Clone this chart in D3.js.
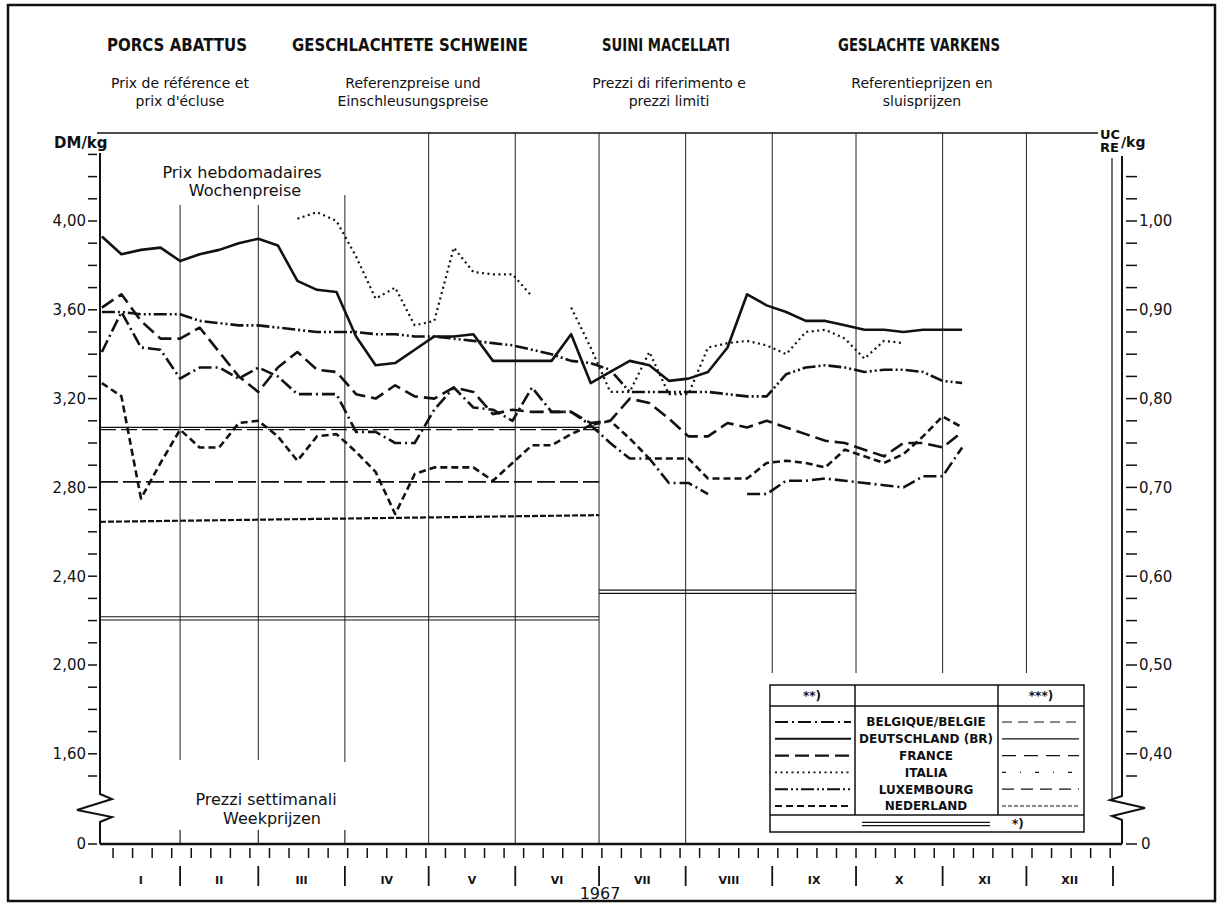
<!DOCTYPE html>
<html lang="fr">
<head>
<meta charset="UTF-8">
<title>Porcs abattus 1967</title>
<script src="https://cdnjs.cloudflare.com/ajax/libs/d3/7.8.5/d3.min.js"></script>
<style>
  body { margin: 0; background: #fff; }
  svg text { font-family: "DejaVu Sans", sans-serif; fill: #111; }
  .title { font-size: 18px; font-weight: bold; }
  .sub { font-size: 14px; }
  .axlab { font-size: 15px; }
  .note { font-size: 16px; }
  .month { font-size: 11px; font-weight: bold; }
  .leg { font-size: 12px; font-weight: bold; }
</style>
</head>
<body>
<svg width="1223" height="905"></svg>
<script>
// weekly prices, DM/kg, one value per week starting Wed 4 Jan 1967 (null = no quotation)
const belgique = [3.41,3.59,3.43,3.42,3.29,3.34,3.34,3.29,3.34,3.30,3.22,3.22,3.22,3.05,3.05,3.00,3.00,3.15,3.25,3.16,3.15,3.10,3.25,3.14,3.14,3.08,3.00,2.93,2.93,2.82,2.82,2.77,null,2.77,2.77,2.83,2.83,2.84,2.83,2.82,2.81,2.80,2.85,2.85,2.98];
const deutschland = [3.93,3.85,3.87,3.88,3.82,3.85,3.87,3.90,3.92,3.89,3.73,3.69,3.68,3.48,3.35,3.36,3.42,3.48,3.48,3.49,3.37,3.37,3.37,3.37,3.49,3.27,3.32,3.37,3.35,3.28,3.29,3.32,3.43,3.67,3.62,3.59,3.55,3.55,3.53,3.51,3.51,3.50,3.51,3.51,3.51];
const france = [3.61,3.67,3.55,3.47,3.47,3.52,3.41,3.30,3.23,3.34,3.41,3.33,3.32,3.22,3.20,3.26,3.21,3.20,3.25,3.23,3.13,3.15,3.14,3.14,3.14,3.09,3.10,3.20,3.18,3.11,3.03,3.03,3.09,3.07,3.10,3.07,3.04,3.01,3.00,2.97,2.94,3.00,3.00,2.98,3.05];
const italia = [null,null,null,null,null,null,null,null,null,null,4.01,4.04,4.00,3.84,3.65,3.70,3.53,3.55,3.88,3.77,3.76,3.76,3.66,null,3.61,3.43,3.23,3.23,3.41,3.22,3.22,3.43,3.45,3.46,3.44,3.40,3.50,3.51,3.47,3.38,3.46,3.45,null,null,null];
const luxembourg = [3.59,3.59,3.58,3.58,3.58,3.55,3.54,3.53,3.53,3.52,3.51,3.50,3.50,3.50,3.49,3.49,3.48,3.48,3.47,3.46,3.45,3.44,3.42,3.40,3.37,3.36,3.33,3.23,3.23,3.23,3.23,3.23,3.22,3.21,3.21,3.31,3.34,3.35,3.34,3.32,3.33,3.33,3.32,3.28,3.27];
const nederland = [3.27,3.21,2.75,2.91,3.06,2.98,2.98,3.09,3.10,3.03,2.92,3.03,3.04,2.96,2.87,2.68,2.86,2.89,2.89,2.89,2.83,2.91,2.99,2.99,3.04,3.08,3.10,3.02,2.93,2.93,2.93,2.84,2.84,2.84,2.91,2.92,2.91,2.89,2.97,2.94,2.91,2.95,3.03,3.12,3.07];

// reference prices (***) and sluice-gate prices (*)
const refDates = ["1967-01-01", "1967-07-01"];
const refDeutschland = [3.07, 3.07];
const refFrance = [3.06, 3.06];
const refBelLux = [2.825, 2.825];
const refNederland = [2.645, 2.675];
const sluiceDates = [["1967-01-01", "1967-07-01"], ["1967-07-01", "1967-10-01"]];
const sluiceValues = [2.21, 2.33];

const monthLabels = ["I","II","III","IV","V","VI","VII","VIII","IX","X","XI","XII"];
const leftTicks = [1.6, 2.0, 2.4, 2.8, 3.2, 3.6, 4.0];
const rightTicks = [0.40, 0.50, 0.60, 0.70, 0.80, 0.90, 1.00];
const countries = ["BELGIQUE/BELGIE", "DEUTSCHLAND (BR)", "FRANCE", "ITALIA", "LUXEMBOURG", "NEDERLAND"];

const parse = d3.timeParse("%Y-%m-%d");
const weeks = belgique.map((_, k) => d3.timeDay.offset(new Date(1967, 0, 4), 7 * k));

const svg = d3.select("svg");
const x = d3.scaleTime().domain([new Date(1967, 0, 1), new Date(1968, 0, 1)]).range([93.5, 1113]);
const y = d3.scaleLinear().domain([1.5, 4.3]).range([776, 154.4]);
const yUC = d3.scaleLinear().domain([0.375, 1.075]).range([776, 154.4]);
const y0 = 844, axL = 100, axR = 1122, topY = 133;

// frame
svg.append("rect").attr("x", 8).attr("y", 5).attr("width", 1207).attr("height", 896)
  .attr("fill", "none").attr("stroke", "#111").attr("stroke-width", 2.5);

// headers: [centre, title, title width, subtitle line 1, line 2]
const heads = [
  [177, "PORCS ABATTUS", 140, "Prix de référence et", "prix d'écluse"],
  [410, "GESCHLACHTETE SCHWEINE", 236, "Referenzpreise und", "Einschleusungspreise"],
  [666, "SUINI MACELLATI", 128, "Prezzi di riferimento e", "prezzi limiti"],
  [919, "GESLACHTE VARKENS", 162, "Referentieprijzen en", "sluisprijzen"]
];
heads.forEach(h => {
  svg.append("text").attr("class", "title").attr("x", h[0]).attr("y", 51).attr("text-anchor", "middle")
    .attr("textLength", h[2]).attr("lengthAdjust", "spacingAndGlyphs").text(h[1]);
  svg.append("text").attr("class", "sub").attr("x", h[0] + 3).attr("y", 88).attr("text-anchor", "middle").text(h[3]);
  svg.append("text").attr("class", "sub").attr("x", h[0] + 3).attr("y", 106).attr("text-anchor", "middle").text(h[4]);
});

// top line and unit labels
svg.append("line").attr("x1", 97).attr("x2", 1098).attr("y1", topY).attr("y2", topY)
  .attr("stroke", "#111").attr("stroke-width", 1.5);
svg.append("text").attr("class", "axlab").attr("x", 54).attr("y", 148).style("font-weight", "bold").text("DM/kg");
svg.append("text").attr("x", 1100).attr("y", 139).style("font-size", "13px").style("font-weight", "bold").text("UC");
svg.append("text").attr("x", 1100).attr("y", 152).style("font-size", "13px").style("font-weight", "bold").text("RE");
svg.append("text").attr("x", 1121).attr("y", 147).style("font-size", "14px").style("font-weight", "bold").text("/kg");

// month grid lines (boundaries Feb..Dec)
const bounds = d3.timeMonth.range(new Date(1967, 1, 1), new Date(1968, 0, 1));
const gridTop = [205, 205, 195, topY, topY, topY, topY, topY, topY, topY, topY];
const gridBot = [760, 760, 762, y0, y0, y0, y0, 673, 673, 673, 673];
svg.append("g").selectAll("line").data(bounds).join("line")
  .attr("x1", d => x(d)).attr("x2", d => x(d))
  .attr("y1", (d, i) => gridTop[i]).attr("y2", (d, i) => gridBot[i])
  .attr("stroke", "#222").attr("stroke-width", 1);
svg.append("g").selectAll("line").data(bounds.slice(0, 3)).join("line")
  .attr("x1", d => x(d)).attr("x2", d => x(d)).attr("y1", 830).attr("y2", y0)
  .attr("stroke", "#222").attr("stroke-width", 1.2);

// left axis with break
svg.append("path").attr("fill", "none").attr("stroke", "#111").attr("stroke-width", 2)
  .attr("d", `M${axL},153 V794 L112,799 L77,810 L112,817 L${axL},822 V${y0}`);
svg.append("g").selectAll("line").data(d3.range(15, 44).map(v => v / 10)).join("line")
  .attr("x1", 88).attr("x2", 97).attr("y1", d => y(d)).attr("y2", d => y(d))
  .attr("stroke", "#111").attr("stroke-width", 1.5);
svg.append("g").selectAll("text").data(leftTicks).join("text").attr("class", "axlab")
  .attr("x", 86).attr("y", d => y(d)).attr("dy", "0.36em").attr("text-anchor", "end")
  .text(d => d3.format(".2f")(d).replace(".", ","));
svg.append("line").attr("x1", 88).attr("x2", 97).attr("y1", y0).attr("y2", y0).attr("stroke", "#111").attr("stroke-width", 1.5);
svg.append("text").attr("class", "axlab").attr("x", 86).attr("y", y0).attr("dy", "0.36em").attr("text-anchor", "end").text("0");

// right axis (double line) with break
svg.append("line").attr("x1", 1112).attr("x2", 1112).attr("y1", 158).attr("y2", 800)
  .attr("stroke", "#111").attr("stroke-width", 1.2);
svg.append("path").attr("fill", "none").attr("stroke", "#111").attr("stroke-width", 2)
  .attr("d", `M${axR},156 V796 L1110,800 L1145,808 L1112,816 L${axR},820 V${y0}`);
svg.append("g").selectAll("line").data(d3.range(15, 43).map(v => v / 40)).join("line")
  .attr("x1", 1126).attr("x2", 1137).attr("y1", d => yUC(d)).attr("y2", d => yUC(d))
  .attr("stroke", "#111").attr("stroke-width", 1.5);
svg.append("g").selectAll("text").data(rightTicks).join("text").attr("class", "axlab")
  .attr("x", 1139).attr("y", d => yUC(d)).attr("dy", "0.36em")
  .text(d => d3.format(".2f")(d).replace(".", ","));
svg.append("line").attr("x1", 1126).attr("x2", 1137).attr("y1", y0).attr("y2", y0).attr("stroke", "#111").attr("stroke-width", 1.5);
svg.append("text").attr("class", "axlab").attr("x", 1141).attr("y", y0).attr("dy", "0.36em").text("0");

// bottom axis
svg.append("line").attr("x1", axL).attr("x2", axR).attr("y1", y0).attr("y2", y0)
  .attr("stroke", "#111").attr("stroke-width", 2.5);
const sundays = d3.timeWeek.range(new Date(1967, 0, 2), new Date(1968, 0, 1));
svg.append("g").selectAll("line").data(sundays).join("line")
  .attr("x1", d => x(d)).attr("x2", d => x(d)).attr("y1", 848).attr("y2", 858)
  .attr("stroke", "#111").attr("stroke-width", 1.5);
const monthEdges = d3.timeMonth.range(new Date(1967, 1, 1), new Date(1968, 0, 2));
svg.append("g").selectAll("line").data(monthEdges).join("line")
  .attr("x1", d => x(d)).attr("x2", d => x(d)).attr("y1", 866).attr("y2", 886)
  .attr("stroke", "#111").attr("stroke-width", 1.8);
const months = d3.timeMonth.range(new Date(1967, 0, 1), new Date(1968, 0, 1));
svg.append("g").selectAll("text").data(months).join("text").attr("class", "month")
  .attr("x", d => (x(d) + x(d3.timeMonth.offset(d, 1))) / 2 + (d.getMonth() === 0 ? 4 : 0))
  .attr("y", 884).attr("text-anchor", "middle").text((d, i) => monthLabels[i]);
svg.append("text").attr("x", 600).attr("y", 899).attr("text-anchor", "middle")
  .style("font-size", "16px").text("1967");

// in-plot notes
svg.append("text").attr("class", "note").attr("x", 242).attr("y", 178).attr("text-anchor", "middle").text("Prix hebdomadaires");
svg.append("text").attr("class", "note").attr("x", 245).attr("y", 196).attr("text-anchor", "middle").text("Wochenpreise");
svg.append("text").attr("class", "note").attr("x", 266).attr("y", 805).attr("text-anchor", "middle").text("Prezzi settimanali");
svg.append("text").attr("class", "note").attr("x", 272).attr("y", 824).attr("text-anchor", "middle").text("Weekprijzen");

// reference price lines
const refLine = (vals, dates) => d3.line()
  .x((d, i) => Math.max(axL, x(parse(dates[i])))).y(d => y(d))(vals);
const refs = [
  [refDeutschland, null, 1.2],
  [refFrance, "16,5", 1.3],
  [refBelLux, "18,5", 1.6],
  [refNederland, "6,2", 2.2]
];
refs.forEach(r => {
  svg.append("path").attr("d", refLine(r[0], refDates)).attr("fill", "none")
    .attr("stroke", "#111").attr("stroke-width", r[2]).attr("stroke-dasharray", r[1]);
});
sluiceValues.forEach((v, i) => {
  const x1 = Math.max(axL, x(parse(sluiceDates[i][0]))), x2 = x(parse(sluiceDates[i][1]));
  [-1.6, 1.6].forEach(o => {
    svg.append("line").attr("x1", x1).attr("x2", x2).attr("y1", y(v) + o).attr("y2", y(v) + o)
      .attr("stroke", "#111").attr("stroke-width", 1.1);
  });
});

// weekly price series
const series = [
  [belgique, "13,4,2,4", 2.6],
  [deutschland, null, 2.6],
  [france, "14,6", 2.6],
  [italia, "2,3.5", 2.2],
  [luxembourg, "13,3,2,3,2,3", 2.6],
  [nederland, "7,4", 2.6]
];
const line = d3.line().defined(d => d != null).x((d, i) => x(weeks[i])).y(d => y(d));
series.forEach(s => {
  svg.append("path").attr("d", line(s[0])).attr("fill", "none")
    .attr("stroke", "#111").attr("stroke-width", s[2]).attr("stroke-dasharray", s[1])
    .attr("stroke-linejoin", "round");
});

// legend
const lg = svg.append("g");
const L = 770, R = 1084, T = 685, B = 832, c1 = 855, c2 = 998;
lg.append("rect").attr("x", L).attr("y", T).attr("width", R - L).attr("height", B - T)
  .attr("fill", "#fff").attr("stroke", "#111").attr("stroke-width", 1.5);
lg.append("line").attr("x1", L).attr("x2", R).attr("y1", 706).attr("y2", 706).attr("stroke", "#111").attr("stroke-width", 1.5);
lg.append("line").attr("x1", L).attr("x2", R).attr("y1", 815).attr("y2", 815).attr("stroke", "#111").attr("stroke-width", 1.5);
[c1, c2].forEach(c => lg.append("line").attr("x1", c).attr("x2", c).attr("y1", T).attr("y2", 815).attr("stroke", "#111").attr("stroke-width", 1.5));
lg.append("text").attr("class", "leg").attr("x", 812).attr("y", 700).attr("text-anchor", "middle").text("**)");
lg.append("text").attr("class", "leg").attr("x", 1041).attr("y", 700).attr("text-anchor", "middle").text("***)");
const refStyles = [["10,6", 1.2], [null, 1.2], ["14,8", 1.2], ["4,14,1,14", 1.2], ["12,7", 1.2], ["4,2", 1.1]];
countries.forEach((c, i) => {
  const cy = 722 + i * 16.8;
  lg.append("text").attr("class", "leg").attr("x", 926).attr("y", cy).attr("dy", "0.36em")
    .attr("text-anchor", "middle").text(c);
  lg.append("line").attr("x1", 775).attr("x2", 851).attr("y1", cy).attr("y2", cy)
    .attr("stroke", "#111").attr("stroke-width", series[i][2] * 0.8).attr("stroke-dasharray", series[i][1]);
  lg.append("line").attr("x1", 1002).attr("x2", 1079).attr("y1", cy).attr("y2", cy)
    .attr("stroke", "#111").attr("stroke-width", refStyles[i][1]).attr("stroke-dasharray", refStyles[i][0]);
});
[-1.6, 1.6].forEach(o => lg.append("line").attr("x1", 862).attr("x2", 990)
  .attr("y1", 824 + o).attr("y2", 824 + o).attr("stroke", "#111").attr("stroke-width", 1.1));
lg.append("text").attr("class", "leg").attr("x", 1012).attr("y", 828).text("*)");
</script>
</body>
</html>
